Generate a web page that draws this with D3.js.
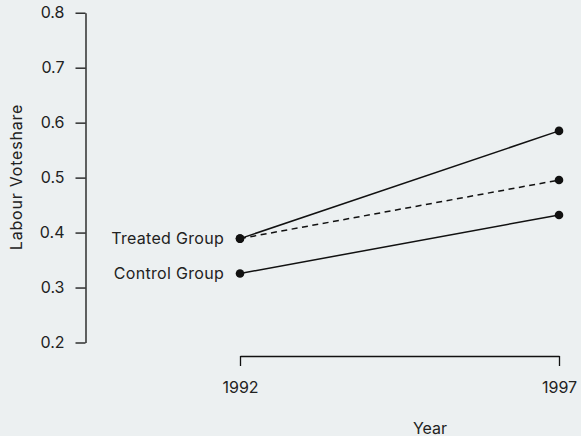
<!DOCTYPE html>
<html>
<head>
<meta charset="utf-8">
<script src="https://cdn.jsdelivr.net/npm/d3@7"></script>
<style>
  html, body { margin: 0; padding: 0; background: #ecf0f1; }
  svg { display: block; }
</style>
</head>
<body>
<svg id="chart" width="581" height="436"></svg>
<script>
// Labour vote share before/after, difference-in-differences layout
const years = [1992, 1997];
const treated = [0.389, 0.585];
const control = [0.3255, 0.432];
const counterfactual = [0.389, 0.4955];
const groupLabels = ["Treated Group", "Control Group"];
const yTicks = [0.2, 0.3, 0.4, 0.5, 0.6, 0.7, 0.8];

const FONT = "Inter, Roboto, sans-serif";
const FS = 16;
const ink = "#111";
const textCol = "#222";

const svg = d3.select("#chart");

const x = d3.scaleLinear().domain([1992, 1997]).range([240, 559]);
const y = d3.scaleLinear().domain([0.2, 0.8]).range([342.5, 12.7]);

// y axis
const yAxis = svg.append("g").attr("transform", "translate(85.5,0)")
  .call(d3.axisLeft(y).tickValues(yTicks).tickFormat(d3.format(".1f"))
    .tickSize(10).tickSizeOuter(0).tickPadding(11));
yAxis.select(".domain").attr("stroke", ink).attr("stroke-width", 1.3);
yAxis.selectAll(".tick line").attr("stroke", ink).attr("stroke-width", 1.3);
yAxis.selectAll(".tick text").attr("font-size", FS).attr("fill", textCol)
  .attr("font-family", FONT);

// x axis
const xAxis = svg.append("g").attr("transform", "translate(0,356)")
  .call(d3.axisBottom(x).tickValues(years).tickFormat(d3.format("d"))
    .tickSize(10).tickSizeOuter(0).tickPadding(15.5));
xAxis.select(".domain").attr("stroke", ink).attr("stroke-width", 1.3);
xAxis.selectAll(".tick line").attr("stroke", ink).attr("stroke-width", 1.3);
xAxis.selectAll(".tick text").attr("font-size", FS).attr("fill", textCol)
  .attr("font-family", FONT);

// axis titles
svg.append("text").attr("x", 430).attr("y", 433.5).attr("text-anchor", "middle")
  .attr("font-family", FONT).attr("font-size", FS).attr("fill", textCol).text("Year");
svg.append("text").attr("transform", "translate(22,177) rotate(-90)")
  .attr("text-anchor", "middle").attr("letter-spacing", 0.8)
  .attr("font-family", FONT).attr("font-size", FS).attr("fill", textCol)
  .text("Labour Voteshare");

const line = d3.line().x((d, i) => x(years[i])).y(d => y(d));

const series = [
  { values: treated, dash: null },
  { values: control, dash: null },
  { values: counterfactual, dash: "6,4.5" }
];

series.forEach(s => {
  svg.append("path").datum(s.values).attr("d", line)
    .attr("fill", "none").attr("stroke", ink).attr("stroke-width", 1.5)
    .attr("stroke-dasharray", s.dash);
});

series.forEach(s => {
  svg.selectAll(null).data(s.values).enter().append("circle")
    .attr("cx", (d, i) => x(years[i])).attr("cy", d => y(d))
    .attr("r", 4.3).attr("fill", ink);
});

// group labels at the 1992 points
[treated, control].forEach((vals, i) => {
  svg.append("text").attr("x", x(years[0]) - 16).attr("y", y(vals[0]))
    .attr("text-anchor", "end").attr("dy", "0.35em").attr("letter-spacing", 0.3)
    .attr("font-family", FONT).attr("font-size", FS).attr("fill", textCol)
    .text(groupLabels[i]);
});
</script>
</body>
</html>
